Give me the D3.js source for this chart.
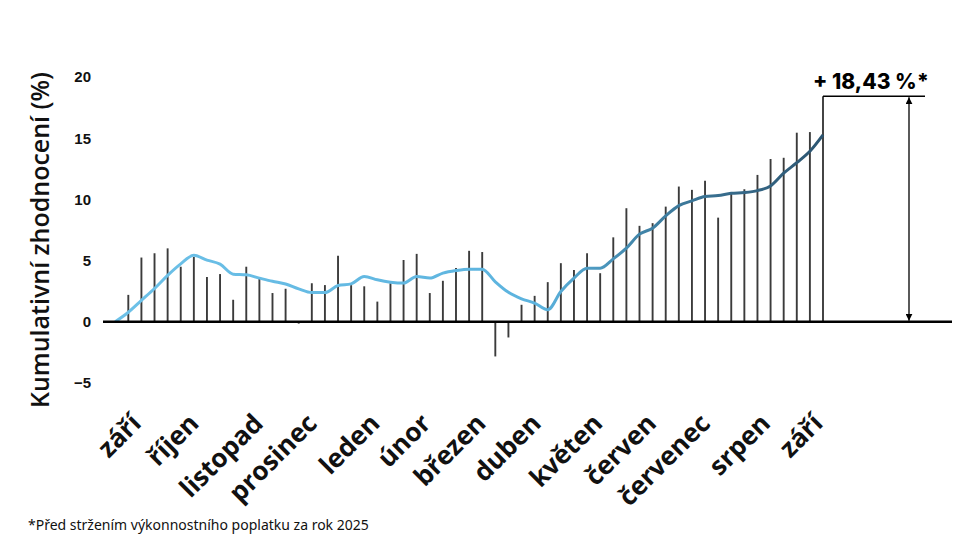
<!DOCTYPE html>
<html lang="cs">
<head>
<meta charset="UTF-8">
<script src="https://cdn.jsdelivr.net/npm/d3@7"></script>
<style>
  body { margin: 0; background: #fff; }
  svg { display: block; }
</style>
</head>
<body>
<div id="chart"></div>
<script>
// weekly cumulative returns (bars), week index 0..53
const barValues = [2.2, 5.25, 5.6, 6.0, 4.5, 5.3, 3.65, 3.9, 1.8, 4.5,
  3.6, 2.35, 2.7, -0.15, 3.15, 3.0, 5.4, 3.0, 2.9, 1.65,
  3.15, 5.05, 5.55, 2.35, 3.35, 4.4, 5.8, 5.7, -2.83, -1.28,
  1.39, 2.12, 3.24, 4.79, 4.24, 5.6, 3.97, 6.9, 9.28, 7.84,
  8.06, 9.41, 11.05, 10.78, 11.53, 8.51, 10.5, 10.83, 12.0, 13.3,
  13.4, 15.45, 15.5, 18.43];

// smoothed line, week index -1..53
const lineValues = [0, 0.78, 1.75, 2.72, 3.79, 4.73, 5.43, 5.04, 4.71, 3.89,
  3.84, 3.57, 3.31, 3.09, 2.69, 2.39, 2.39, 2.96, 3.1, 3.7,
  3.43, 3.24, 3.16, 3.7, 3.57, 3.98, 4.19, 4.3, 4.3, 3.27,
  2.41, 1.88, 1.53, 0.98, 2.47, 3.57, 4.38, 4.38, 5.14, 6.02,
  7.16, 7.65, 8.65, 9.49, 9.88, 10.23, 10.31, 10.5, 10.56, 10.72,
  11.1, 12.14, 13.0, 13.93, 15.27];

const months = ["září", "říjen", "listopad", "prosinec", "leden", "únor", "březen",
  "duben", "květen", "červen", "červenec", "srpen", "září"];
// week at which each month label ends
const monthWeeks = [1.1, 5.5, 10.4, 14.5, 19.3, 23.2, 27.4, 31.6, 36.3, 40.4, 44.5, 49.1, 53.1];

const yTicks = [-5, 0, 5, 10, 15, 20];
const finalLabel = "+ 18,43 %*";
const yTitle = "Kumulativní zhodnocení (%)";
const footnote = "*Před stržením výkonnostního poplatku za rok 2025";

const width = 980, height = 551;

const svg = d3.select("#chart").append("svg")
  .attr("width", width)
  .attr("height", height);

const x = d3.scaleLinear().domain([-1, 53]).range([115.2, 823]);
const y = d3.scaleLinear().domain([-5, 20]).range([383, 77]);

// gradient for the line (light blue -> dark teal)
const defs = svg.append("defs");
const grad = defs.append("linearGradient")
  .attr("id", "lineGrad")
  .attr("gradientUnits", "userSpaceOnUse")
  .attr("x1", x(-1)).attr("x2", x(53))
  .attr("y1", 0).attr("y2", 0);
[[0, "#6dc1e8"], [0.6, "#5cb3de"], [0.74, "#4185a9"], [0.86, "#376c8c"], [1, "#2c5571"]]
  .forEach(s => grad.append("stop").attr("offset", s[0]).attr("stop-color", s[1]));

defs.append("marker")
  .attr("id", "arrow")
  .attr("viewBox", "0 0 10 10")
  .attr("refX", 10).attr("refY", 5)
  .attr("markerWidth", 7).attr("markerHeight", 7)
  .attr("markerUnits", "userSpaceOnUse")
  .attr("orient", "auto-start-reverse")
  .append("path")
  .attr("d", "M0,0 L10,5 L0,10 z")
  .attr("fill", "#000");

// bars
svg.append("g")
  .selectAll("line")
  .data(barValues)
  .enter()
  .append("line")
  .attr("x1", (d, i) => x(i))
  .attr("x2", (d, i) => x(i))
  .attr("y1", y(0))
  .attr("y2", d => y(d))
  .attr("stroke", "#3b3b3b")
  .attr("stroke-width", 1.9);

// line
const line = d3.line()
  .x((d, i) => x(i - 1))
  .y(d => y(d))
  .curve(d3.curveMonotoneX);

svg.append("path")
  .datum(lineValues)
  .attr("d", line)
  .attr("fill", "none")
  .attr("stroke", "url(#lineGrad)")
  .attr("stroke-width", 3)
  .attr("stroke-linejoin", "round");

// zero line
svg.append("line")
  .attr("x1", 103).attr("x2", 952)
  .attr("y1", y(0)).attr("y2", y(0))
  .attr("stroke", "#000")
  .attr("stroke-width", 2.4);

// y axis
const yAxis = svg.append("g")
  .attr("transform", "translate(91,0)")
  .call(d3.axisLeft(y).tickValues(yTicks).tickSize(0).tickPadding(0));
yAxis.select(".domain").remove();
yAxis.selectAll("text")
  .attr("font-family", "'Liberation Sans', Arial, sans-serif")
  .attr("font-weight", "bold")
  .attr("font-size", 15)
  .attr("fill", "#111");

svg.append("text")
  .attr("transform", "translate(49,240) rotate(-90)")
  .attr("text-anchor", "middle")
  .attr("font-family", "'Open Sans', sans-serif")
  .attr("font-weight", 600)
  .attr("font-size", 25)
  .attr("fill", "#111")
  .text(yTitle);

// month labels
svg.append("g")
  .selectAll("text")
  .data(months)
  .enter()
  .append("text")
  .attr("transform", (d, i) => `translate(${x(monthWeeks[i])},425) rotate(-45)`)
  .attr("text-anchor", "end")
  .attr("font-family", "'Open Sans', sans-serif")
  .attr("font-weight", "bold")
  .attr("font-size", 26)
  .attr("fill", "#111")
  .text(d => d);

// final value annotation
const xEnd = x(barValues.length - 1);
const yEnd = y(barValues[barValues.length - 1]);
svg.append("line")
  .attr("x1", xEnd).attr("x2", 925)
  .attr("y1", yEnd).attr("y2", yEnd)
  .attr("stroke", "#000").attr("stroke-width", 1.5);

svg.append("line")
  .attr("x1", 909).attr("x2", 909)
  .attr("y1", yEnd + 1).attr("y2", y(0) - 1)
  .attr("stroke", "#000").attr("stroke-width", 1.3)
  .attr("marker-start", "url(#arrow)")
  .attr("marker-end", "url(#arrow)");

svg.append("text")
  .attr("x", 871).attr("y", 89)
  .attr("text-anchor", "middle")
  .attr("font-family", "Inter, 'Noto Sans', sans-serif")
  .attr("font-weight", 800)
  .attr("font-size", 21)
  .attr("fill", "#000")
  .text(finalLabel);

svg.append("text")
  .attr("x", 28).attr("y", 530)
  .attr("font-family", "'Noto Sans', sans-serif")
  .attr("font-size", 14)
  .attr("fill", "#111")
  .text(footnote);
</script>
</body>
</html>
